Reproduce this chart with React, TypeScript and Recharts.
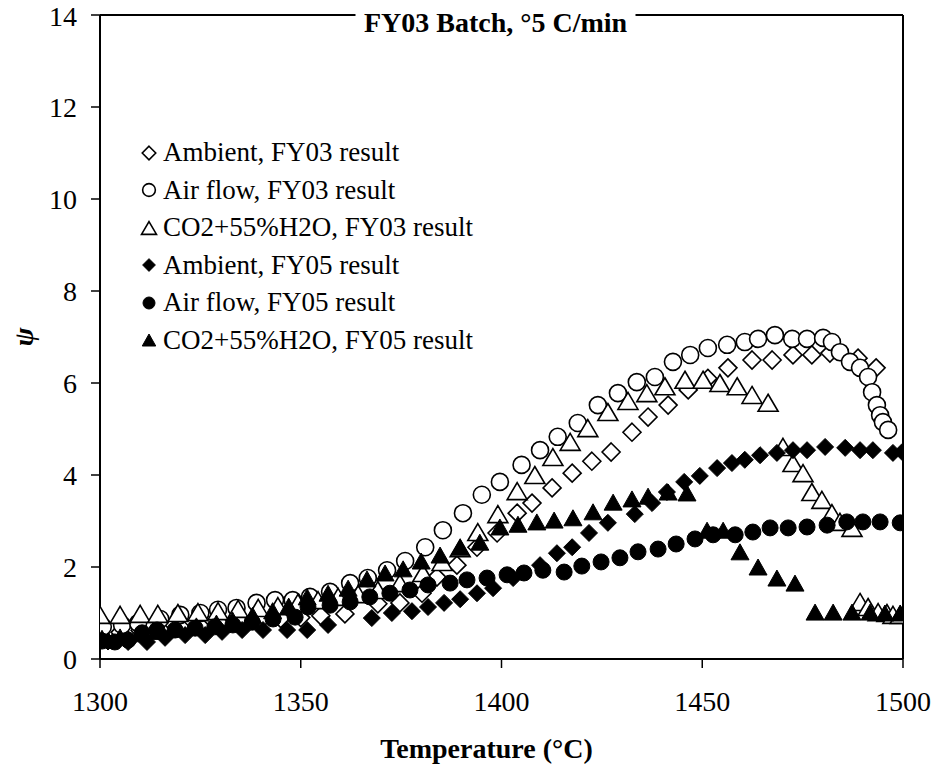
import React from "react";
import { ScatterChart, Scatter, XAxis, YAxis, ReferenceLine, Legend } from "recharts";

const FONT = '"Liberation Serif", "Times New Roman", Times, serif';

const xTicks = [1300, 1350, 1400, 1450, 1500];
const yTicks = [0, 2, 4, 6, 8, 10, 12, 14];

// [temperature °C, psi]
const ambientFY03 = [
  [1300, 0.55], [1305, 0.58], [1310, 0.62], [1315, 0.65], [1320, 0.7], [1325, 0.72],
  [1330, 0.76], [1335, 0.8], [1340, 0.84], [1345, 0.88], [1350, 0.9], [1355, 0.94],
  [1361, 0.98], [1369.2, 1.2], [1374.7, 1.22], [1380.2, 1.43], [1383.9, 1.78], [1388.9, 2.04],
  [1393.9, 2.43], [1398.9, 2.74], [1403.9, 3.17], [1407.6, 3.39], [1412.6, 3.72], [1417.6, 4.04],
  [1422.5, 4.3], [1427.3, 4.5], [1432.5, 4.93], [1436.5, 5.26], [1441.5, 5.52], [1446.5, 5.85],
  [1451.4, 6.1], [1456.4, 6.33], [1462.4, 6.5], [1467.4, 6.5], [1472.6, 6.61], [1477.3, 6.61],
  [1481.8, 6.65], [1488.8, 6.54], [1493.3, 6.33],
];

const airFlowFY03 = [
  [1300.7, 0.7], [1305.5, 0.74], [1309.5, 0.78], [1315, 0.87], [1320, 0.96], [1325, 1.0],
  [1329.4, 1.07], [1334, 1.11], [1339, 1.22], [1343.6, 1.28], [1348, 1.28], [1352.3, 1.35],
  [1357.3, 1.46], [1362.3, 1.65], [1366.7, 1.76], [1371.5, 1.93], [1376, 2.13], [1381, 2.43],
  [1385.4, 2.8], [1390.4, 3.17], [1395.1, 3.57], [1399.6, 3.85], [1405, 4.22], [1409.6, 4.54],
  [1414, 4.83], [1419, 5.13], [1424, 5.52], [1429, 5.78], [1433.7, 6.02], [1438.2, 6.13],
  [1442.7, 6.46], [1447, 6.61], [1451.4, 6.76], [1456.2, 6.83], [1460.6, 6.89], [1463.9, 6.96],
  [1468.1, 7.04], [1472.4, 6.96], [1476.1, 6.96], [1480.1, 6.98], [1482.3, 6.89], [1484.3, 6.67],
  [1486.8, 6.46], [1489.3, 6.33], [1491.3, 6.13], [1492.3, 5.8], [1493.5, 5.52], [1494.3, 5.3],
  [1495, 5.15], [1496.3, 4.98],
];

const co2FY03 = [
  [1300, 0.96], [1305, 0.96], [1310, 0.98], [1314.4, 0.98], [1319.4, 1.0], [1324.4, 1.02],
  [1329.4, 1.04], [1334.4, 1.09], [1339.4, 1.11], [1344.3, 1.15], [1349.3, 1.22], [1354.3, 1.28],
  [1359.3, 1.35], [1364.3, 1.41], [1369.2, 1.5], [1374.7, 1.65], [1380.4, 1.87], [1385.2, 2.11],
  [1389.7, 2.41], [1394.1, 2.76], [1399.1, 3.15], [1403.9, 3.65], [1408.3, 4.0], [1412.8, 4.39],
  [1417.1, 4.72], [1421.5, 5.02], [1426.5, 5.37], [1431.5, 5.61], [1436.2, 5.78], [1440.7, 5.93],
  [1445.7, 6.07], [1450.2, 6.07], [1454.4, 6.0], [1458.7, 5.93], [1462.4, 5.74], [1466.4, 5.57],
  [1470.1, 4.61], [1472.6, 4.26], [1475.1, 4.04], [1477.3, 3.63], [1479.8, 3.46], [1482.3, 3.17],
  [1484.3, 2.98], [1487.3, 2.85], [1489.3, 1.24], [1491.3, 1.13], [1493.8, 1.02], [1496, 1.0],
  [1497.5, 0.96], [1499.3, 0.96],
];

const ambientFY05 = [
  [1302, 0.38], [1307, 0.37], [1311.7, 0.37], [1316.2, 0.46], [1321.2, 0.52], [1326.2, 0.52],
  [1330.4, 0.59], [1335.4, 0.63], [1340.6, 0.63], [1346.6, 0.63], [1351.6, 0.63], [1356.8, 0.74],
  [1367.7, 0.89], [1372.7, 1.0], [1377.7, 1.04], [1381.7, 1.13], [1385.7, 1.22], [1389.7, 1.3],
  [1393.9, 1.43], [1397.9, 1.54], [1402.9, 1.76], [1409.6, 2.04], [1413.8, 2.3], [1417.6, 2.43],
  [1421.8, 2.74], [1426.5, 2.96], [1433.2, 3.15], [1437.5, 3.39], [1441.2, 3.63], [1445.5, 3.85],
  [1449.4, 3.98], [1453.7, 4.15], [1457.4, 4.26], [1460.6, 4.33], [1464.4, 4.43], [1468.6, 4.48],
  [1472.6, 4.54], [1476.1, 4.54], [1480.6, 4.61], [1485.6, 4.59], [1489.3, 4.54], [1492.5, 4.54],
  [1497.5, 4.48], [1499.8, 4.5],
];

const airFlowFY05 = [
  [1300.5, 0.39], [1303.7, 0.37], [1307, 0.41], [1310.5, 0.57], [1314.2, 0.63], [1318.7, 0.63],
  [1323.7, 0.67], [1328.6, 0.7], [1333.1, 0.74], [1337.9, 0.8], [1343.1, 0.87], [1348.6, 0.91],
  [1351.8, 1.13], [1357.3, 1.17], [1362.3, 1.24], [1367.2, 1.35], [1372.2, 1.43], [1377.2, 1.5],
  [1381.7, 1.61], [1387.2, 1.65], [1391.4, 1.72], [1396.4, 1.76], [1401.4, 1.83], [1405.6, 1.87],
  [1410.3, 1.93], [1415.6, 1.89], [1420, 2.02], [1424.8, 2.11], [1429.5, 2.2], [1434, 2.33],
  [1439, 2.39], [1443.5, 2.5], [1448.2, 2.61], [1452.7, 2.7], [1458.2, 2.7], [1462.6, 2.76],
  [1466.9, 2.85], [1471.4, 2.85], [1476.1, 2.87], [1481.1, 2.91], [1486, 2.98], [1490, 2.98],
  [1494.3, 2.98], [1499.3, 2.96],
];

const co2FY05 = [
  [1300.5, 0.45], [1305, 0.48], [1310, 0.55], [1314, 0.6], [1319, 0.65], [1324, 0.72],
  [1329, 0.78], [1333, 0.85], [1338, 0.95], [1343, 1.05], [1347, 1.15], [1351.6, 1.35],
  [1356.8, 1.43], [1361.8, 1.54], [1366.5, 1.74], [1371, 1.87], [1375.5, 1.96], [1380, 2.13],
  [1384.7, 2.26], [1389.7, 2.43], [1394.6, 2.54], [1399.6, 2.87], [1404.1, 2.93], [1408.8, 2.98],
  [1413.1, 3.02], [1417.8, 3.07], [1422.8, 3.2], [1427.8, 3.41], [1432.5, 3.48], [1436.5, 3.54],
  [1441.5, 3.63], [1446.2, 3.61], [1451.2, 2.8], [1455.2, 2.8], [1459.4, 2.33], [1463.9, 2.0],
  [1468.6, 1.76], [1473.1, 1.65], [1478.1, 1.02], [1482.6, 1.02], [1487.3, 1.02], [1491.8, 1.02],
  [1495.5, 1.0], [1499.3, 1.0],
];

const toPoints = (rows: number[][]) => rows.map(([t, v]) => ({ t, v }));

type Kind = "diamond" | "circle" | "triangle";

function Marker({ kind, filled, cx, cy, k = 1 }: { kind: Kind; filled: boolean; cx: number; cy: number; k?: number }) {
  const fill = filled ? "#000" : "#fff";
  const stroke = "#000";
  const sw = filled ? 1 : 1.6;
  if (kind === "circle") {
    const r = (filled ? 8 : 8.5) * k;
    return <circle cx={cx} cy={cy} r={r} fill={fill} stroke={stroke} strokeWidth={sw} />;
  }
  if (kind === "diamond") {
    const h = (filled ? 8.5 : 9) * k;
    const pts = `${cx},${cy - h} ${cx + h},${cy} ${cx},${cy + h} ${cx - h},${cy}`;
    return <polygon points={pts} fill={fill} stroke={stroke} strokeWidth={sw} />;
  }
  const w = (filled ? 9 : 10) * k;
  const hh = (filled ? 8 : 8.5) * k;
  const pts = `${cx},${cy - hh} ${cx + w},${cy + hh} ${cx - w},${cy + hh}`;
  return <polygon points={pts} fill={fill} stroke={stroke} strokeWidth={sw} strokeLinejoin="miter" />;
}

const series = [
  { name: "Ambient, FY03 result", rows: ambientFY03, kind: "diamond" as Kind, filled: false },
  { name: "Air flow, FY03 result", rows: airFlowFY03, kind: "circle" as Kind, filled: false },
  { name: "CO2+55%H2O, FY03 result", rows: co2FY03, kind: "triangle" as Kind, filled: false },
  { name: "Ambient, FY05 result", rows: ambientFY05, kind: "diamond" as Kind, filled: true },
  { name: "Air flow, FY05 result", rows: airFlowFY05, kind: "circle" as Kind, filled: true },
  { name: "CO2+55%H2O, FY05 result", rows: co2FY05, kind: "triangle" as Kind, filled: true },
];

const LegendBox = () => (
  <div style={{ fontFamily: FONT, fontSize: 27, lineHeight: "37.5px", color: "#000" }}>
    {series.map((s) => (
      <div key={s.name} style={{ display: "flex", alignItems: "center", whiteSpace: "nowrap" }}>
        <svg width={16} height={16} style={{ marginRight: 6, overflow: "visible" }}>
          <Marker kind={s.kind} filled={s.filled} cx={8} cy={8} k={0.75} />
        </svg>
        <span>{s.name}</span>
      </div>
    ))}
  </div>
);

const TitleLabel = (props: any) => {
  const vb = props.viewBox || { x: 100, y: 15, width: 803 };
  const cx = vb.x + vb.width / 2 - 6;
  return (
    <g>
      <rect x={cx - 140} y={vb.y - 6} width={280} height={30} fill="#fff" />
      <text x={cx} y={vb.y + 17} textAnchor="middle" fontFamily={FONT} fontWeight="bold" fontSize={28} fill="#000">
        FY03 Batch, °5 C/min
      </text>
    </g>
  );
};

const PsiLabel = (props: any) => {
  const vb = props.viewBox || { x: 0, y: 15, width: 100, height: 644 };
  const x = vb.x + 23;
  const y = vb.y + vb.height / 2;
  return (
    <text x={x} y={y} transform={`rotate(-90 ${x} ${y})`} textAnchor="middle" dominantBaseline="central"
      fontFamily={FONT} fontStyle="italic" fontWeight="bold" fontSize={28} fill="#000">
      ψ
    </text>
  );
};

const TempLabel = (props: any) => {
  const vb = props.viewBox || { x: 100, y: 659, width: 803, height: 108 };
  return (
    <text x={vb.x + vb.width / 2 - 15} y={vb.y + 99} textAnchor="middle"
      fontFamily={FONT} fontWeight="bold" fontSize={28} fill="#000">
      Temperature (°C)
    </text>
  );
};

export default function App() {
  const tickStyle = { fill: "#000", fontSize: 28, fontFamily: FONT };
  return (
    <div style={{ position: "absolute", left: 0, top: 0, background: "#fff" }}>
      <ScatterChart width={933} height={767} margin={{ top: 15, right: 30, bottom: 0, left: 0 }}>
        <XAxis type="number" dataKey="t" domain={[1300, 1500]} ticks={xTicks} height={108}
          tick={tickStyle} tickSize={9} tickMargin={23} stroke="#000" strokeWidth={2}
          tickLine={{ stroke: "#000", strokeWidth: 1.5 }} allowDataOverflow label={<TempLabel />} />
        <YAxis type="number" dataKey="v" domain={[0, 14]} ticks={yTicks} width={100}
          tick={tickStyle} tickSize={9} tickMargin={14} stroke="#000" strokeWidth={2}
          tickLine={{ stroke: "#000", strokeWidth: 1.5 }} allowDataOverflow label={<PsiLabel />} />
        <ReferenceLine x={1500} stroke="#000" strokeWidth={2} />
        <ReferenceLine y={14} stroke="#000" strokeWidth={2} label={<TitleLabel />} />
        <Legend layout="vertical" align="center" verticalAlign="middle" content={<LegendBox />}
          wrapperStyle={{ top: 134, left: 141, width: "auto", height: "auto" }} />
        {series.map((s) => (
          <Scatter key={s.name} name={s.name} data={toPoints(s.rows)} isAnimationActive={false}
            shape={(p: any) => <Marker kind={s.kind} filled={s.filled} cx={p.cx} cy={p.cy} />} />
        ))}
      </ScatterChart>
    </div>
  );
}
